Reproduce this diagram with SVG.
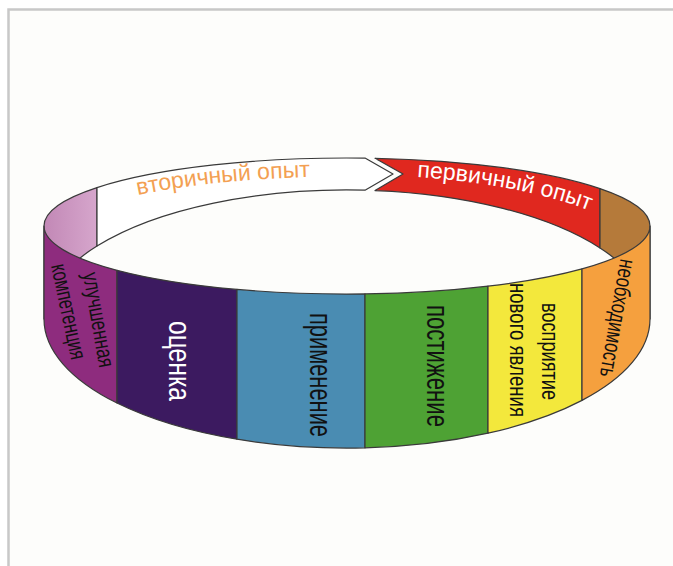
<svg xmlns="http://www.w3.org/2000/svg" width="673" height="566" viewBox="0 0 673 566">
<style>
.seg{stroke:#3a3a3a;stroke-width:1.2;stroke-linejoin:round}
.t{font-family:"Liberation Sans",Arial,sans-serif;text-anchor:middle}
.arc{font-family:"Liberation Sans",Arial,sans-serif;font-size:23px}
</style>
<defs>
<path id="p2" d="M 138 195 A 303 67 0 0 1 650 243.5"/>
<path id="p1" d="M 417 177 A 303 90 0 0 1 650 264.5"/>
<linearGradient id="gPink" x1="0" x2="1" y1="0" y2="0"><stop offset="0" stop-color="#c288b6"/><stop offset="1" stop-color="#d6a6cc"/></linearGradient>
</defs>
<rect x="0" y="0" width="673" height="566" fill="#ffffff"/>
<rect x="9" y="10" width="664" height="556" fill="#fdfdfb"/>
<path d="M 8.5 566 V 9.5 H 673" fill="none" stroke="#c8c8c8" stroke-width="2.5"/>

<g id="back">
<g id="pink"><path class="seg" fill="url(#gPink)" d="M 44 226 A 303 68 0 0 1 97 187.6 L 97 246.1 A 303 129 0 0 0 44 319 Z"/></g>
<g id="secondary"><path class="seg" fill="#ffffff" d="M 97 187.6 A 303 68 0 0 1 365 158.1 L 393 174 L 365 190.2 A 303 129 0 0 0 97 246.1 Z"/>
<text class="arc" fill="#f3a052"><textPath href="#p2">вторичный опыт</textPath></text></g>
<g id="primary"><path class="seg" fill="#e0281f" d="M 375 158.3 A 303 68 0 0 1 600 188.6 L 600 248 A 303 129 0 0 0 375 190.6 L 403 174 Z"/>
<text class="arc" fill="#ffffff"><textPath href="#p1">первичный опыт</textPath></text></g>
<g id="brown"><path class="seg" fill="#b57a3a" d="M 600 188.6 A 303 68 0 0 1 650 226 L 650 319 A 303 129 0 0 0 600 248 Z"/></g>
</g>

<g id="front">
<g id="competence"><path class="seg" fill="#8e2c7e" d="M 44 226 A 303 68 0 0 0 117 270.3 L 117 403 A 303 129 0 0 1 44 319 Z"/>
<text class="t" font-size="23" transform="translate(97,320) rotate(80)" y="6" textLength="96" lengthAdjust="spacingAndGlyphs" fill="#111">улучшенная</text>
<text class="t" font-size="23" transform="translate(67,312) rotate(78)" y="6" textLength="97" lengthAdjust="spacingAndGlyphs" fill="#111">компетенция</text></g>
<g id="evaluation"><path class="seg" fill="#3c1a60" d="M 117 270.3 A 303 68 0 0 0 237 289.4 L 237 439.2 A 303 129 0 0 1 117 403 Z"/>
<text class="t" font-size="32" transform="translate(177,361) rotate(90)" y="8.3" textLength="80" lengthAdjust="spacingAndGlyphs" fill="#ffffff">оценка</text></g>
<g id="application"><path class="seg" fill="#4a8cb2" d="M 237 289.4 A 303 68 0 0 0 365 293.9 L 365 447.8 A 303 129 0 0 1 237 439.2 Z"/>
<text class="t" font-size="32" transform="translate(318.5,375) rotate(90)" y="8.3" textLength="124" lengthAdjust="spacingAndGlyphs" fill="#111">применение</text></g>
<g id="comprehension"><path class="seg" fill="#4ea234" d="M 365 293.9 A 303 68 0 0 0 488 286.2 L 488 433.2 A 303 129 0 0 1 365 447.8 Z"/>
<text class="t" font-size="32" transform="translate(435,366) rotate(90)" y="8.3" textLength="122" lengthAdjust="spacingAndGlyphs" fill="#111">постижение</text></g>
<g id="perception"><path class="seg" fill="#f3e83c" d="M 488 286.2 A 303 68 0 0 0 582 268.9 L 582 400.4 A 303 129 0 0 1 488 433.2 Z"/>
<text class="t" font-size="24" transform="translate(548.5,351.5) rotate(90)" y="6.2" textLength="97" lengthAdjust="spacingAndGlyphs" fill="#111">восприятие</text>
<text class="t" font-size="24" transform="translate(516.5,350) rotate(90)" y="6.2" textLength="134" lengthAdjust="spacingAndGlyphs" fill="#111">нового явления</text></g>
<g id="necessity"><path class="seg" fill="#f5a03e" d="M 582 268.9 A 303 68 0 0 0 650 226 L 650 319 A 303 129 0 0 1 582 400.4 Z"/>
<text class="t" font-size="23" transform="translate(616,318) rotate(100)" y="6" textLength="119" lengthAdjust="spacingAndGlyphs" fill="#111">необходимость</text></g>
</g>
</svg>
